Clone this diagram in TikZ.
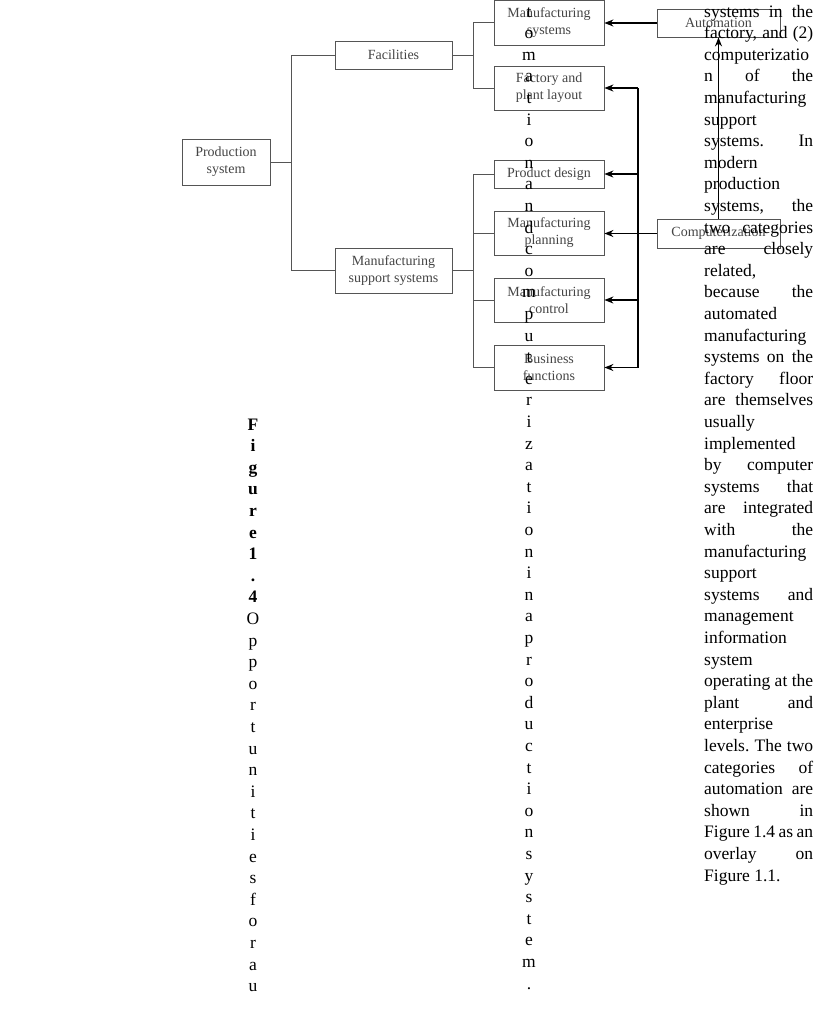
\documentclass[tikz,border=0pt]{standalone}
\usepackage{fontspec}
\setmainfont{Liberation Serif}
\usetikzlibrary{arrows.meta}
\definecolor{boxgray}{HTML}{555555}
\definecolor{boxtext}{HTML}{454545}
\newcommand\J[1]{\hbox to 109pt{#1}}
\begin{document}
\begin{tikzpicture}[x=1pt,y=-1pt,
 box/.style={draw=boxgray, line width=0.8pt, inner sep=0pt, align=center,
   font=\fontsize{14}{17}\selectfont, text=boxtext},
 tree/.style={draw=boxgray, line width=0.9pt},
 bus/.style={draw=black, line width=1.4pt},
 arr/.style={draw=black, line width=1.4pt, -{Stealth[length=9pt,width=7pt]}},
 para/.style={anchor=base west, inner sep=0pt, font=\fontsize{17.5}{21.6}\selectfont},
 col/.style={anchor=base, inner sep=0pt, font=\fontsize{17.5}{21.6}\selectfont}]
\fill[white] (0,0) rectangle (816,1015);
\useasboundingbox (0,0) rectangle (816,1015);

% boxes
\node[box, minimum width=88pt, minimum height=46pt] (ps) at (226,162) {Production\\system};
\node[box, minimum width=117pt, minimum height=28pt] (fac) at (393.5,55) {Facilities};
\node[box, minimum width=117pt, minimum height=45pt] (mss) at (393.5,270.5) {Manufacturing\\support systems};
\node[box, minimum width=110pt, minimum height=45pt] (ms) at (549,22.5) {Manufacturing\\systems};
\node[box, minimum width=110pt, minimum height=44pt] (fpl) at (549,88) {Factory and\\plant layout};
\node[box, minimum width=110pt, minimum height=28pt] (pd) at (549,174) {Product design};
\node[box, minimum width=110pt, minimum height=44pt] (mp) at (549,233) {Manufacturing\\planning};
\node[box, minimum width=110pt, minimum height=44pt] (mc) at (549,300) {Manufacturing\\control};
\node[box, minimum width=110pt, minimum height=45pt] (bf) at (549,367.5) {Business\\functions};
\node[box, minimum width=123pt, minimum height=28pt] (auto) at (718.5,23) {Automation};
\node[box, minimum width=123pt, minimum height=29pt] (comp) at (718.5,233.5) {Computerization};

% tree connectors
\draw[tree] (ps.east) -- ++(21,0) coordinate (j1);
\draw[tree] (fac.west) -| (j1) |- (mss.west);
\draw[tree] (fac.east) -- ++(21,0) coordinate (j2);
\draw[tree] (ms.west) -| (j2) |- (fpl.west);
\draw[tree] (mss.east) -- ++(21,0) coordinate (j3);
\draw[tree] (pd.west) -| (j3) |- (bf.west);
\draw[tree] (mp.west) -- (mp.west -| j3);
\draw[tree] (mc.west) -- (mc.west -| j3);

% automation / computerization arrows
\draw[arr] (auto.west) -- (auto.west -| ms.east);
\draw[arr] (comp.west) -- (comp.west -| mp.east);
\coordinate (bx) at (638,0);
\draw[bus] (fpl.east -| bx) -- (bf.east -| bx);
\draw[arr] (fpl.east -| bx) -- (fpl.east);
\draw[arr] (pd.east -| bx) -- (pd.east);
\draw[arr] (mc.east -| bx) -- (mc.east);
\draw[arr] (bf.east -| bx) -- (bf.east);
\draw[arr] (comp.north) -- (auto.south);

% paragraph column
\foreach \t [count=\i] in {
 {\J{systems\hfill in\hfill the}},
 {\J{factory,\hfill and\hfill (2)}},
 {computerizatio},
 {\J{n\hfill of\hfill the}},
 {manufacturing},
 {support},
 {\J{systems.\hfill In}},
 {modern},
 {production},
 {\J{systems,\hfill the}},
 {\J{two\hfill categories}},
 {\J{are\hfill closely}},
 {related,},
 {\J{because\hfill the}},
 {automated},
 {manufacturing},
 {\J{systems\hfill on\hfill the}},
 {\J{factory\hfill floor}},
 {\J{are\hfill themselves}},
 {usually},
 {implemented},
 {\J{by\hfill computer}},
 {\J{systems\hfill that}},
 {\J{are\hfill integrated}},
 {\J{with\hfill the}},
 {manufacturing},
 {support},
 {\J{systems\hfill and}},
 {management},
 {information},
 {system},
 {\J{operating\hfill at\hfill the}},
 {\J{plant\hfill and}},
 {enterprise},
 {\J{levels.\hfill The\hfill two}},
 {\J{categories\hfill of}},
 {\J{automation\hfill are}},
 {\J{shown\hfill in}},
 {\J{Figure\hfill 1.4\hfill as\hfill an}},
 {\J{overlay\hfill on}},
 {Figure 1.1.}}
 \node[para] (p\i) at (704,{17+21.6*(\i-1)}) {\t};

% vertical letter column (middle)
\foreach \c [count=\i] in {t,o,m,a,t,i,o,n,a,n,d,c,o,m,p,u,t,e,r,i,z,a,t,i,o,n,i,n,a,p,r,o,d,u,c,t,i,o,n,s,y,s,t,e,m,.}
 \node[col] (c\i) at (529,{17+21.6*(\i-1)}) {\c};

% vertical caption column (left)
\foreach \c [count=\i] in {F,i,g,u,r,e,1,.,4}
 \node[col, font=\fontsize{17.5}{21.6}\selectfont\bfseries] (f\i) at (253,{430+21.6*(\i-1)}) {\c};
\foreach \c [count=\i from 10] in {O,p,p,o,r,t,u,n,i,t,i,e,s,f,o,r,a,u}
 \node[col] (f\i) at (253,{430+21.6*(\i-1)}) {\c};
\end{tikzpicture}
\end{document}
